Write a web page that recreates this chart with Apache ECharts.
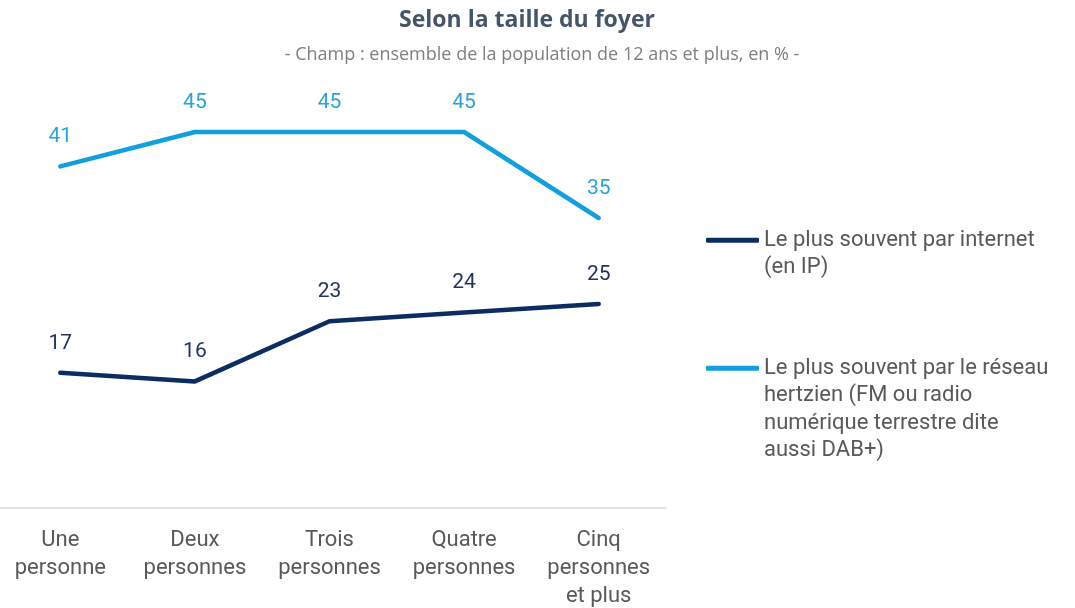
<!DOCTYPE html>
<html>
<head>
<meta charset="utf-8">
<script src="https://cdn.jsdelivr.net/npm/echarts@6/dist/echarts.min.js"></script>
<style>
  html, body { margin: 0; padding: 0; background: #ffffff; }
  #chart { width: 1075px; height: 608px; }
</style>
</head>
<body>
<div id="chart"></div>
<script>
// Household size categories (x axis)
const categories = [
  'Une\npersonne',
  'Deux\npersonnes',
  'Trois\npersonnes',
  'Quatre\npersonnes',
  'Cinq\npersonnes\net plus'
];

// Share of listeners, in %
const internetValues = [17, 16, 23, 24, 25];
const hertzienValues = [41, 45, 45, 45, 35];

const seriesNames = [
  'Le plus souvent par internet\n(en IP)',
  'Le plus souvent par le réseau\nhertzien (FM ou radio\nnumérique terrestre dite\naussi DAB+)'
];

const titleText = 'Selon la taille du foyer';
const subtitleText = '- Champ : ensemble de la population de 12 ans et plus, en % -';

const darkBlue = '#0c2d62';
const lightBlue = '#11a0dd';
const textGrey = '#595959';
const baseFont = 'Roboto, "Liberation Sans", sans-serif';

// Legend text keeps the icon beside the first line: blank lines above balance the lines below
function legendLabel(name) {
  const lines = name.split('\n');
  return new Array(lines.length - 1).fill('').concat(lines).join('\n');
}

function legendFor(name, top) {
  return {
    data: [name],
    left: 706,
    top: top,
    padding: 0,
    orient: 'vertical',
    icon: 'roundRect',
    itemWidth: 53,
    itemHeight: 5,
    formatter: legendLabel,
    textStyle: { fontFamily: baseFont, fontSize: 22, color: textGrey, lineHeight: 27.5 },
    selectedMode: false
  };
}

function lineSeries(name, values, lineColor, labelColor) {
  return {
    name: name,
    type: 'line',
    data: values,
    symbol: 'circle',
    symbolSize: 2,
    lineStyle: { color: lineColor, width: 4.5, cap: 'round', join: 'round' },
    itemStyle: { color: lineColor },
    label: {
      show: true,
      position: 'top',
      distance: 18,
      fontFamily: baseFont,
      fontSize: 21,
      color: labelColor
    }
  };
}

const chart = echarts.init(document.getElementById('chart'), null, { renderer: 'canvas' });

const option = {
  animation: false,
  title: [
    {
      text: titleText,
      left: 522,
      top: 4,
      textAlign: 'center',
      textStyle: {
        fontFamily: '"Open Sans", sans-serif',
        fontWeight: 'bold',
        fontSize: 23,
        color: '#44546a'
      }
    },
    {
      text: subtitleText,
      left: 537,
      top: 41,
      textAlign: 'center',
      textStyle: {
        fontFamily: '"Open Sans", sans-serif',
        fontWeight: 'normal',
        fontSize: 18,
        color: '#7f7f7f'
      }
    }
  ],
  legend: [
    legendFor(seriesNames[0], 199),
    legendFor(seriesNames[1], 272)
  ],
  grid: {
    left: -7,
    right: 409,
    top: 89,
    bottom: 89,
    containLabel: false,
    outerBoundsMode: 'none'
  },
  xAxis: {
    type: 'category',
    data: categories,
    boundaryGap: true,
    offset: -11,
    axisLine: { show: true, lineStyle: { color: '#d9d9d9', width: 1.5 } },
    axisTick: { show: false },
    axisLabel: {
      interval: 0,
      margin: 18,
      fontFamily: baseFont,
      fontSize: 22,
      lineHeight: 28,
      color: textGrey
    }
  },
  yAxis: {
    type: 'value',
    min: 0,
    max: 50,
    show: false,
    splitLine: { show: false }
  },
  series: [
    lineSeries(seriesNames[0], internetValues, darkBlue, '#23325f'),
    lineSeries(seriesNames[1], hertzienValues, lightBlue, '#27a3dc')
  ]
};

chart.setOption(option);
</script>
</body>
</html>
